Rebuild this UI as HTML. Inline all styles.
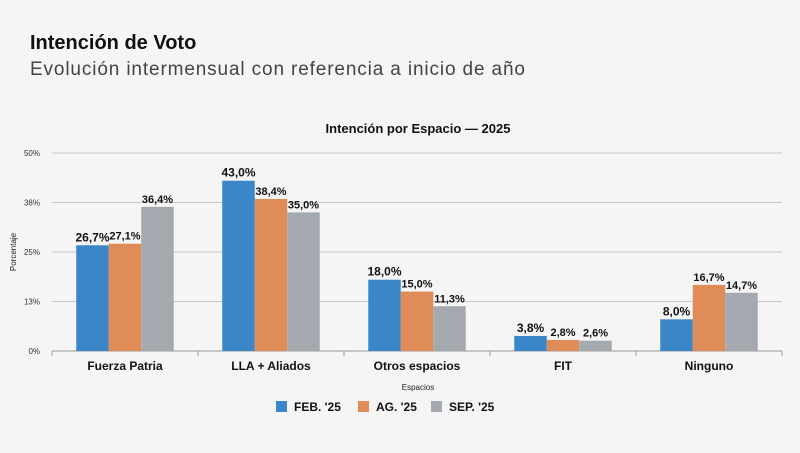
<!DOCTYPE html>
<html><head><meta charset="utf-8"><style>
html,body{margin:0;padding:0;background:#f5f5f5;}
body{width:800px;height:448px;overflow:hidden;font-family:"Liberation Sans",sans-serif;}
</style></head><body>
<svg id="c" width="800" height="448" xmlns="http://www.w3.org/2000/svg">
<rect width="800" height="448" fill="#f5f5f5"/>
<text x="30" y="49" font-size="20" font-weight="bold" fill="#111">Intención de Voto</text>
<text x="30" y="75" font-size="19" fill="#444" textLength="495">Evolución intermensual con referencia a inicio de año</text>
<text x="418" y="133" font-size="13" font-weight="bold" text-anchor="middle" fill="#111">Intención por Espacio — 2025</text>
<text transform="translate(16,252) rotate(-90)" font-size="8" text-anchor="middle" fill="#222">Porcentaje</text>
<text x="418" y="390" font-size="8" text-anchor="middle" fill="#222">Espacios</text>
<g id="grid"></g><g id="bars"></g><g id="legend"></g>
</svg>
<script>
const categories=["Fuerza Patria","LLA + Aliados","Otros espacios","FIT","Ninguno"];
const seriesNames=["FEB. '25","AG. '25","SEP. '25"];
const feb=[26.7,43.0,18.0,3.8,8.0];
const ago=[27.1,38.4,15.0,2.8,16.7];
const sep=[36.4,35.0,11.3,2.6,14.7];
const yTicks=[0,12.5,25,37.5,50];
const yTickLabels=["0%","13%","25%","38%","50%"];
const colors=["#3a86c8","#e08c58","#a4a9b0"];
const series=[feb,ago,sep];
const NS="http://www.w3.org/2000/svg";
const x0=52,x1=782,y0=351,y1=153,ymax=50;
const y=v=>y0-(v/ymax)*(y0-y1);
const band=(x1-x0)/categories.length;
const bw=32.5;
const cx=i=>x0+band*(i+0.5);
function mk(t,a,p){const e=document.createElementNS(NS,t);for(const k in a)e.setAttribute(k,a[k]);p.appendChild(e);return e;}
const g=document.getElementById('grid');
yTicks.forEach((t,i)=>{
 const l=mk('line',{x1:x0,x2:x1,y1:y(t),y2:y(t),stroke:i==0?'#999':'#c8c8c8','stroke-width':1},g);
 
 
 const tx=mk('text',{x:40,y:y(t)+3,'font-size':8,'text-anchor':'end',fill:'#333'},g);
 tx.textContent=yTickLabels[i];
 
 
});
for(let i=0;i<=categories.length;i++){
 const tk=mk('line',{x1:x0+band*i,x2:x0+band*i,y1:y0,y2:y0+5,stroke:'#999'},g);
 
 
}
const b=document.getElementById('bars');
categories.forEach((c,i)=>{
 series.forEach((s,j)=>{
  const bx=cx(i)-1.5*bw+j*bw;
  const r=mk('rect',{x:bx,y:y(s[i]),width:bw,height:y0-y(s[i]),fill:colors[j]},b);
  
  
  const lt=mk('text',{x:bx+bw/2,y:y(s[i])-4,'font-size':j==0?12:11,'font-weight':'bold','text-anchor':'middle',fill:'#111'},b);
  lt.textContent=s[i].toFixed(1).replace('.',',')+'%';
  
  
 });
 const ct=mk('text',{x:cx(i),y:370,'font-size':12,'font-weight':'bold','text-anchor':'middle',fill:'#111'},b);
 ct.textContent=c;
 
 
});
const lg=document.getElementById('legend');
const lx=[276,358,431];
seriesNames.forEach((n,j)=>{
 const r=mk('rect',{x:lx[j],y:401,width:11,height:11,fill:colors[j]},lg);
 
 
 const t=mk('text',{x:lx[j]+18,y:411,'font-size':12,'font-weight':'bold',fill:'#111'},lg);
 t.textContent=n;
 
 
});
</script>
</body></html>
